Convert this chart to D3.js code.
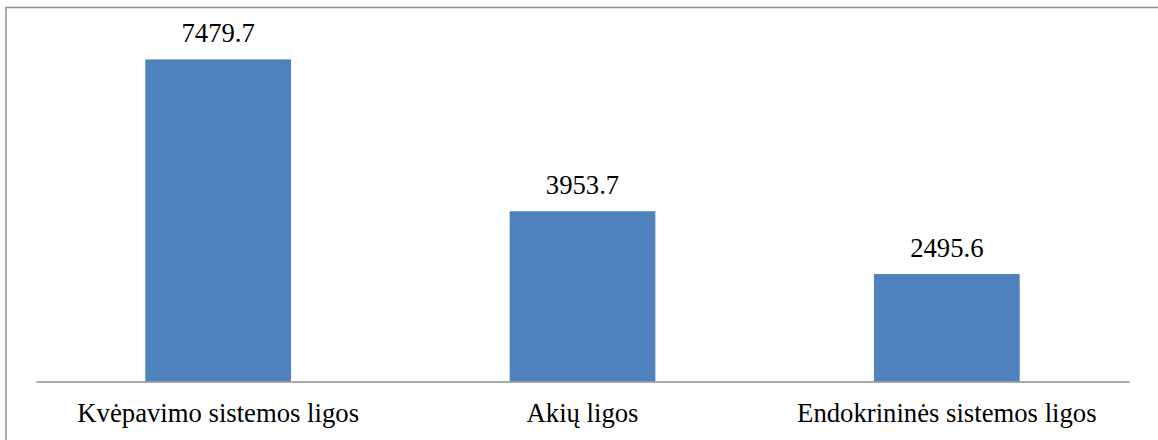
<!DOCTYPE html>
<html>
<head>
<meta charset="utf-8">
<script src="https://cdn.jsdelivr.net/npm/d3@7"></script>
<style>
  html, body { margin: 0; padding: 0; background: #fff; }
</style>
</head>
<body>
<div id="root"></div>
<script>
const width = 1158,
      height = 440,
      labelFont = 'Liberation Serif',
      fontSize = 26.7

const categories = ['Kvėpavimo sistemos ligos', 'Akių ligos', 'Endokrininės sistemos ligos']
const values = [7479.7, 3953.7, 2495.6]
const valueLabels = ['7479.7', '3953.7', '2495.6']
const yMax = 8000

const plot = { left: 36, right: 1129, top: 37, bottom: 381.5 }

const svg = d3.select('#root')
  .append('svg')
  .attr('width', width)
  .attr('height', height)

// outer chart frame (right and bottom edges fall outside the picture)
svg.append('rect')
  .attr('x', 6)
  .attr('y', 7.5)
  .attr('width', width + 10)
  .attr('height', height + 10)
  .attr('fill', 'none')
  .attr('stroke', '#8c8c8c')
  .attr('stroke-width', 1.5)

const x = d3.scaleBand()
  .domain(categories)
  .range([plot.left, plot.right])
  .paddingInner(0.6)
  .paddingOuter(0.3)

const y = d3.scaleLinear()
  .domain([0, yMax])
  .range([plot.bottom, plot.top])

svg.append('g')
  .selectAll('rect')
  .data(values)
  .enter().append('rect')
  .attr('x', (d, i) => x(categories[i]))
  .attr('y', d => y(d))
  .attr('width', x.bandwidth())
  .attr('height', d => y(0) - y(d))
  .attr('fill', '#4F81BD')

svg.append('g')
  .selectAll('text')
  .data(values)
  .enter().append('text')
  .attr('x', (d, i) => x(categories[i]) + x.bandwidth() / 2)
  .attr('y', d => y(d) - 17)
  .attr('text-anchor', 'middle')
  .attr('font-family', labelFont)
  .attr('font-size', fontSize)
  .attr('fill', '#000')
  .text((d, i) => valueLabels[i])

// category axis
const xAxis = svg.append('g')
  .attr('transform', `translate(0, ${plot.bottom})`)
  .call(d3.axisBottom(x).tickSize(0).tickPadding(0))
  .attr('font-family', labelFont)
  .attr('font-size', fontSize)

xAxis.select('.domain')
  .attr('stroke', '#8c8c8c')
  .attr('stroke-width', 1.5)

xAxis.selectAll('.tick text')
  .attr('fill', '#000')
  .attr('dy', null)
  .attr('y', 40)
</script>
</body>
</html>
